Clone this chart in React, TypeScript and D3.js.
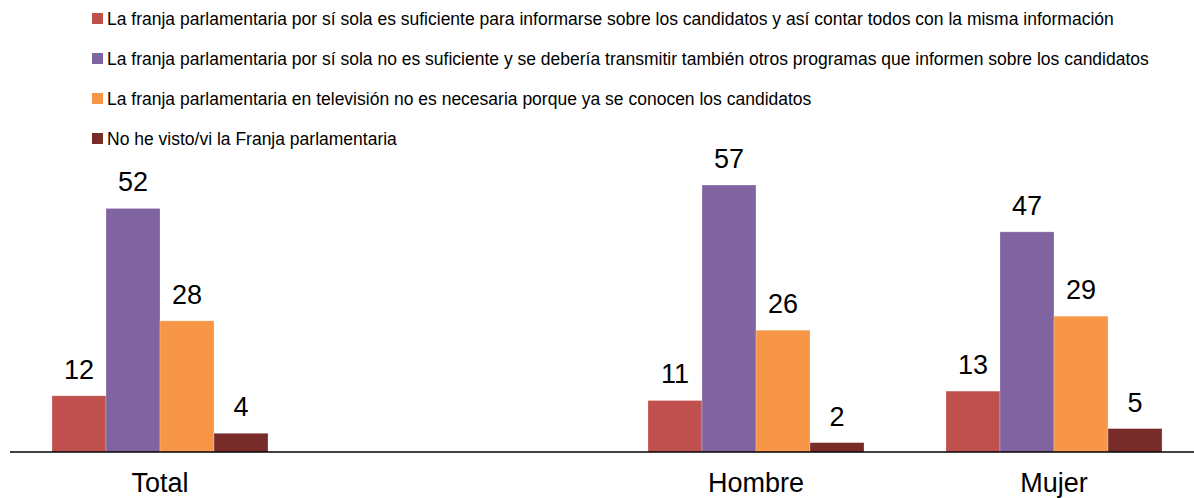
import React from "react";
import * as d3 from "d3";

const categories = ["Total", "", "Hombre", "Mujer"];
const seriesNames = [
  "La franja parlamentaria por sí sola es suficiente para informarse sobre los candidatos y así contar todos con la misma información",
  "La franja parlamentaria por sí sola no es suficiente y se debería transmitir también otros programas que informen sobre los candidatos",
  "La franja parlamentaria en televisión no es necesaria porque ya se conocen los candidatos",
  "No he visto/vi la Franja parlamentaria",
];
const seriesColors = ["#C0504D", "#8064A2", "#F79646", "#772C2A"];
const suficiente = [12, null, 11, 13];
const noSuficiente = [52, null, 57, 47];
const noNecesaria = [28, null, 26, 29];
const noVisto = [4, null, 2, 5];
const seriesValues = [suficiente, noSuficiente, noNecesaria, noVisto];

const W = 1194;
const H = 498;
const FONT = "'Liberation Sans', Arial, sans-serif";

export default function App() {
  const baseY = 452;
  const x0 = d3
    .scaleBand<string>()
    .domain(categories.map((c, i) => String(i)))
    .range([11, 1203])
    .paddingInner(0.275)
    .paddingOuter(0.1375);
  const x1 = d3
    .scaleBand<string>()
    .domain(seriesNames.map((_, i) => String(i)))
    .range([0, x0.bandwidth()]);
  const y = d3.scaleLinear().domain([0, 60]).range([baseY, baseY - 60 * 4.684]);

  return (
    <svg
      width={W}
      height={H}
      style={{ position: "absolute", left: 0, top: 0, background: "#fff" }}
      fontFamily={FONT}
    >
      {/* legend */}
      {seriesNames.map((name, i) => (
        <g key={"lg" + i} transform={`translate(92, ${25 + i * 40})`}>
          <rect x={0} y={-12} width={11} height={11} fill={seriesColors[i]} />
          <text x={15} y={0} fontSize={17.5} fill="#000">
            {name}
          </text>
        </g>
      ))}
      {/* bars */}
      {categories.map((cat, ci) =>
        seriesValues.map((vals, si) => {
          const v = vals[ci];
          if (v === null || v === undefined) return null;
          const bx = (x0(String(ci)) as number) + (x1(String(si)) as number);
          const bw = x1.bandwidth();
          return (
            <g key={`b${ci}-${si}`}>
              <rect
                x={bx}
                y={y(v)}
                width={bw}
                height={baseY - y(v)}
                fill={seriesColors[si]}
                stroke="#ffffff"
                strokeOpacity={0.35}
                strokeWidth={0.7}
              />
              <text
                x={bx + bw / 2}
                y={y(v) - 17}
                textAnchor="middle"
                fontSize={27}
                fill="#000"
              >
                {v}
              </text>
            </g>
          );
        })
      )}
      {/* axis */}
      <line x1={10} x2={W} y1={baseY} y2={baseY} stroke="#000" strokeWidth={1.5} />
      {categories.map((cat, ci) =>
        cat ? (
          <text
            key={"c" + ci}
            x={(x0(String(ci)) as number) + x0.bandwidth() / 2}
            y={492}
            textAnchor="middle"
            fontSize={27}
            fill="#000"
          >
            {cat}
          </text>
        ) : null
      )}
    </svg>
  );
}
